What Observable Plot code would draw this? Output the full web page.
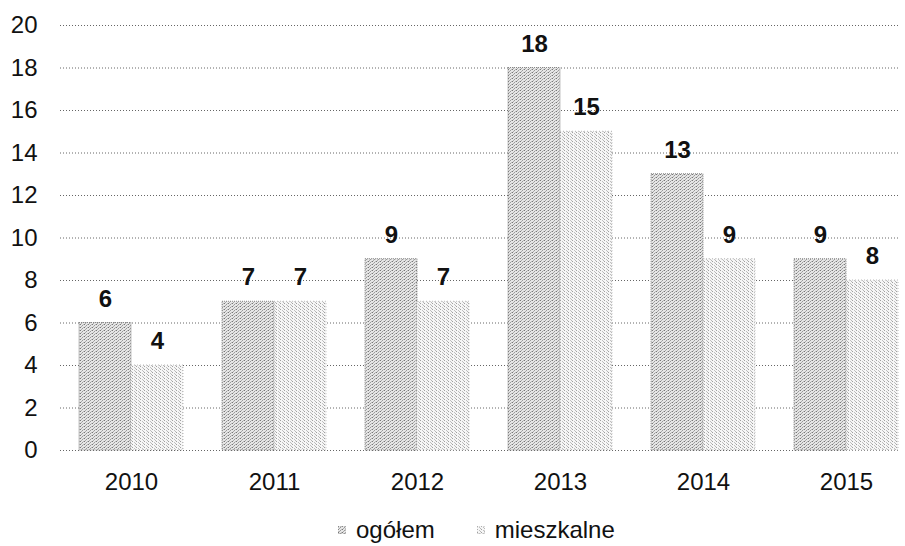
<!DOCTYPE html>
<html>
<head>
<meta charset="utf-8">
<script src="https://cdn.jsdelivr.net/npm/d3@7"></script>
<script src="https://cdn.jsdelivr.net/npm/@observablehq/plot@0.6"></script>
<style>
  body { margin: 0; background: #fff; font-family: "Liberation Sans", Arial, sans-serif; overflow: hidden; }
  #chart svg { display: block; }
  #legend { display: flex; align-items: center; height: 40px; margin-top: 10px; padding-left: 338px; font-size: 24px; line-height: 28px; color: #111; }
  #legend .item { display: flex; align-items: center; margin-right: 42px; }
  #legend svg { display: block; margin-right: 10px; }
</style>
</head>
<body>
<div id="chart"></div>
<div id="legend"></div>
<script>
const years = ["2010", "2011", "2012", "2013", "2014", "2015"];
const ogolem = [6, 7, 9, 18, 13, 9];
const mieszkalne = [4, 7, 7, 15, 9, 8];
const seriesNames = ["ogółem", "mieszkalne"];
const yTicks = [0, 2, 4, 6, 8, 10, 12, 14, 16, 18, 20];

const rowsO = years.map((year, i) => ({year, value: ogolem[i]}));
const rowsM = years.map((year, i) => ({year, value: mieszkalne[i]}));

function build(bw) {
  return Plot.plot({
    width: 905,
    height: 500,
    marginLeft: 60,
    marginRight: 5,
    marginTop: 25,
    marginBottom: 50,
    style: {fontFamily: '"Liberation Sans", Arial, sans-serif', fontSize: "24px", color: "#111", background: "#fff"},
    x: {domain: years, paddingInner: 0.274, paddingOuter: 0.07, align: 0.9, label: null},
    y: {domain: [0, 20], label: null},
    marks: [
      Plot.gridY(yTicks, {stroke: "#666", strokeOpacity: 1, strokeDasharray: "1,2"}),
      Plot.barY(rowsO, {x: "year", y: "value", insetRight: bw / 2, fill: "url(#patO)", stroke: "#888", strokeDasharray: "1,1"}),
      Plot.barY(rowsM, {x: "year", y: "value", insetLeft: bw / 2, fill: "url(#patM)", stroke: "#bbb", strokeDasharray: "1,2"}),
      Plot.text(rowsO, {x: "year", y: "value", text: d => String(d.value), dx: -bw / 4, dy: -24, lineAnchor: "middle", fontWeight: "bold", fontSize: 24, fill: "#111"}),
      Plot.text(rowsM, {x: "year", y: "value", text: d => String(d.value), dx: bw / 4, dy: -24, lineAnchor: "middle", fontWeight: "bold", fontSize: 24, fill: "#111"}),
      Plot.axisY(yTicks, {tickSize: 0, tickPadding: 23, label: null, fontSize: 24}),
      Plot.axisX({tickSize: 0, tickPadding: 22, label: null, fontSize: 24})
    ]
  });
}

const probe = build(0);
const bw = probe.scale("x").bandwidth;
const chart = build(bw);
document.getElementById("chart").appendChild(chart);

// stipple patterns
const defs = d3.select(chart).insert("defs", ":first-child");
const pO = defs.append("pattern").attr("id", "patO").attr("patternUnits", "userSpaceOnUse").attr("width", 4).attr("height", 3);
pO.append("rect").attr("width", 4).attr("height", 3).attr("fill", "#e6e6e6");
[[0,0,"#777"],[2,1,"#999"],[1,2,"#aaa"],[3,0,"#bbb"]].forEach(([x,y,c]) =>
  pO.append("rect").attr("x", x).attr("y", y).attr("width", 1).attr("height", 1).attr("fill", c));
const pM = defs.append("pattern").attr("id", "patM").attr("patternUnits", "userSpaceOnUse").attr("width", 4).attr("height", 3);
pM.append("rect").attr("width", 4).attr("height", 3).attr("fill", "#f6f6f6");
[[0,0,"#a0a0a0"],[2,1,"#c0c0c0"],[3,2,"#b8b8b8"]].forEach(([x,y,c]) =>
  pM.append("rect").attr("x", x).attr("y", y).attr("width", 1).attr("height", 1).attr("fill", c));

// legend
const legend = d3.select("#legend");
seriesNames.forEach((name, i) => {
  const item = legend.append("div").attr("class", "item");
  const s = item.append("svg").attr("width", 8).attr("height", 8);
  s.append("rect").attr("width", 8).attr("height", 8).attr("fill", i === 0 ? "url(#patO)" : "url(#patM)")
    .attr("stroke", i === 0 ? "#999" : "#bbb").attr("stroke-dasharray", "1,1");
  item.append("span").text(name);
});
</script>
</body>
</html>
